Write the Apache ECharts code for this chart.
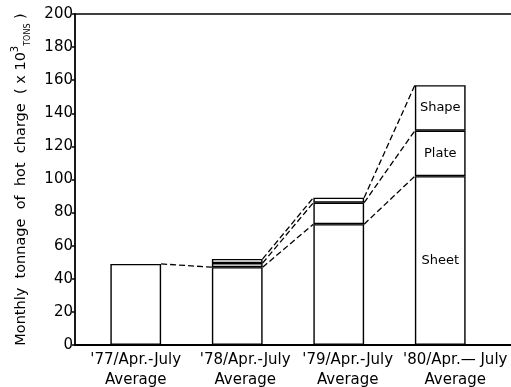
<!DOCTYPE html>
<html><head><meta charset="utf-8">
<script src="https://cdn.jsdelivr.net/npm/echarts@6/dist/echarts.min.js"></script>
<style>html,body{margin:0;padding:0;background:#fff}#c{width:511px;height:387px}</style>
</head><body><div id="c"></div>
<script>
const categories = ["'77/Apr.-July\nAverage", "'78/Apr.-July\nAverage", "'79/Apr.-July\nAverage", "'80/Apr.— July\nAverage"];
const seriesNames = ['Sheet', 'Plate', 'Shape'];
const sheet = [49, 47, 73, 102];
const plate = [null, 2.5, 13, 27.5];
const shape = [null, 2.5, 3, 27.5];
const yMin = 0, yMax = 200, yInterval = 20;

const FONT = 'DejaVu Sans';
const layers = [sheet, plate, shape];
const labelShift = [0, 16, 18, 30]; // visual nudge of category labels (padding)

// cumulative tops per bar per layer
const cum = categories.map((_, i) => {
  let s = 0; const out = [];
  layers.forEach(l => { if (l[i] != null) { s += l[i]; out.push(s); } else out.push(null); });
  return out;
});
// connector segments: [fromIndex, fromValue, toValue]
const links = [];
for (let i = 0; i < categories.length - 1; i++) {
  for (let k = 0; k < layers.length; k++) {
    if (cum[i][k] != null && cum[i + 1][k] != null) links.push([i, cum[i][k], cum[i + 1][k]]);
  }
}

const barStyle = {color: '#fff', borderColor: '#000', borderWidth: 1.4};
const chart = echarts.init(document.getElementById('c'), null, {renderer: 'canvas'});
chart.setOption({
  animation: false,
  backgroundColor: '#fff',
  grid: [
    {left: 85, right: 20, top: 14, bottom: 42, outerBoundsMode: 'none', containLabel: false},
    {left: 75, right: 0, top: 14, bottom: 42, outerBoundsMode: 'none', containLabel: false}
  ],
  xAxis: [
    {type: 'category', gridIndex: 0,
     data: categories.map((c, i) => ({value: c, textStyle: {padding: [0, 0, 0, labelShift[i]]}})),
     axisLine: {show: false}, axisTick: {show: false},
     axisLabel: {color: '#000', fontFamily: FONT, fontSize: 15, lineHeight: 20, margin: 5, interval: 0}},
    {type: 'value', gridIndex: 1, min: 0, max: 1, position: 'bottom',
     axisLine: {show: true, lineStyle: {color: '#000', width: 1.8}},
     axisTick: {show: false}, axisLabel: {show: false}, splitLine: {show: false}},
    {type: 'value', gridIndex: 1, min: 0, max: 1, position: 'top',
     axisLine: {show: true, lineStyle: {color: '#000', width: 1.5}},
     axisTick: {show: false}, axisLabel: {show: false}, splitLine: {show: false}}
  ],
  yAxis: [
    {type: 'value', gridIndex: 0, min: yMin, max: yMax, interval: yInterval, show: false},
    {type: 'value', gridIndex: 1, min: yMin, max: yMax, interval: yInterval,
     axisLine: {show: true, onZero: false, lineStyle: {color: '#000', width: 1.8}},
     axisTick: {show: true, length: 3, lineStyle: {color: '#000', width: 1.5}},
     axisLabel: {color: '#000', fontFamily: FONT, fontSize: 15, margin: 2},
     splitLine: {show: false},
     name: '{a|Monthly  tonnage  of  hot  charge  ( x 10}{s|3}{b|TONS}{a| )}',
     nameLocation: 'middle', nameGap: 43, nameRotate: 90,
     nameTextStyle: {rich: {
       a: {fontFamily: FONT, fontSize: 14.5, color: '#000', lineHeight: 22},
       s: {fontFamily: FONT, fontSize: 10, color: '#000', verticalAlign: 'top', lineHeight: 22},
       b: {fontFamily: FONT, fontSize: 8, color: '#000', verticalAlign: 'bottom', lineHeight: 22}
     }}}
  ],
  series: layers.map((l, k) => ({
    type: 'bar', name: seriesNames[k], stack: 'total', xAxisIndex: 0, yAxisIndex: 0,
    barWidth: '50%', data: l, itemStyle: barStyle,
    label: {show: true, position: 'inside', color: '#000', fontFamily: FONT, fontSize: 13,
            formatter: p => p.dataIndex === categories.length - 1 ? p.seriesName : ''}
  })).concat([{
    type: 'custom', xAxisIndex: 0, yAxisIndex: 0, data: links, clip: false, z: 5,
    encode: {x: 0, y: [1, 2]},
    renderItem: (params, api) => {
      const i = api.value(0);
      const p1 = api.coord([i, api.value(1)]);
      const p2 = api.coord([i + 1, api.value(2)]);
      const half = api.size([1, 0])[0] * 0.25;
      return {type: 'line', shape: {x1: p1[0] + half, y1: p1[1], x2: p2[0] - half, y2: p2[1]},
              style: {stroke: '#000', lineWidth: 1.3, lineDash: [6, 3]}};
    }
  }])
});
</script></body></html>
